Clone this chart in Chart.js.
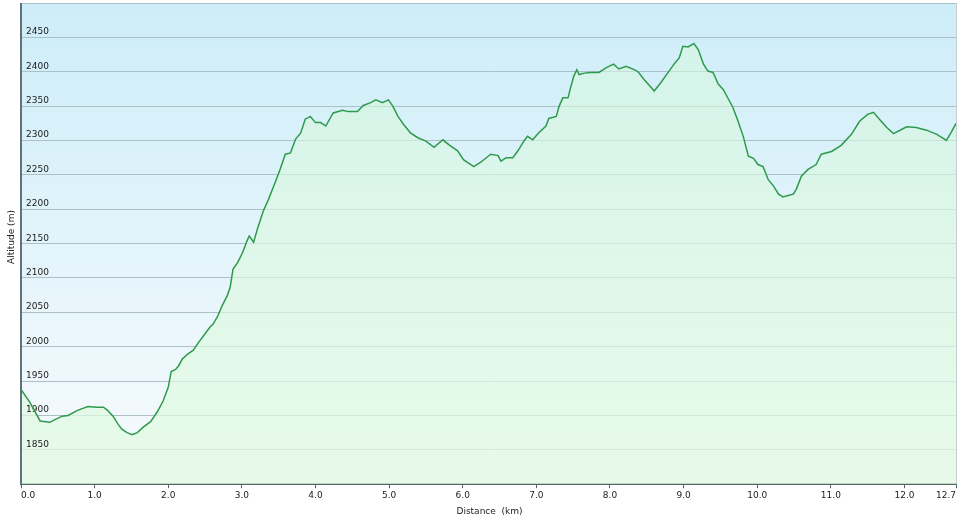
<!DOCTYPE html>
<html>
<head>
<meta charset="utf-8">
<script src="https://cdn.jsdelivr.net/npm/chart.js@4.4.0/dist/chart.umd.min.js"></script>
<style>
  html, body { margin: 0; padding: 0; background: #fff; }
  #wrap { position: relative; width: 960px; height: 519px; }
</style>
</head>
<body>
<div id="wrap"><canvas id="profile"></canvas></div>
<script>
// profile samples
const distanceKm = [
  0.00, 0.12, 0.26, 0.39, 0.46, 0.56, 0.64, 0.76, 0.83, 0.91,
  1.03, 1.12, 1.18, 1.25, 1.32, 1.37, 1.44, 1.51, 1.58, 1.66,
  1.76, 1.85, 1.93, 2.00, 2.04, 2.10, 2.14, 2.19, 2.26, 2.34,
  2.41, 2.48, 2.57, 2.61, 2.67, 2.73, 2.80, 2.84, 2.88, 2.94,
  3.01, 3.07, 3.10, 3.16, 3.21, 3.29, 3.36, 3.46, 3.52, 3.59,
  3.66, 3.73, 3.80, 3.86, 3.93, 4.00, 4.07, 4.14, 4.24, 4.37,
  4.44, 4.57, 4.65, 4.75, 4.82, 4.91, 4.99, 5.05, 5.12, 5.20,
  5.29, 5.39, 5.50, 5.61, 5.73, 5.81, 5.93, 6.01, 6.11, 6.15,
  6.24, 6.38, 6.48, 6.52, 6.59, 6.68, 6.75, 6.83, 6.88, 6.95,
  7.03, 7.13, 7.17, 7.27, 7.31, 7.36, 7.43, 7.47, 7.51, 7.55,
  7.58, 7.65, 7.74, 7.85, 7.95, 8.05, 8.12, 8.22, 8.35, 8.39,
  8.46, 8.56, 8.60, 8.69, 8.79, 8.87, 8.94, 8.99, 9.06, 9.14,
  9.20, 9.27, 9.33, 9.40, 9.47, 9.54, 9.61, 9.67, 9.74, 9.81,
  9.88, 9.95, 10.01, 10.08, 10.15, 10.22, 10.29, 10.35, 10.42, 10.49,
  10.53, 10.60, 10.69, 10.80, 10.87, 11.01, 11.14, 11.28, 11.39, 11.50,
  11.58, 11.66, 11.76, 11.85, 11.96, 12.03, 12.16, 12.30, 12.44, 12.57,
  12.64, 12.70
];
const altitudeM = [
  1938, 1919, 1892, 1890, 1894, 1899, 1900, 1907, 1910, 1913,
  1912, 1912, 1907, 1899, 1887, 1880, 1875, 1872, 1875, 1883,
  1891, 1905, 1921, 1941, 1964, 1967, 1972, 1982, 1989, 1995,
  2006, 2016, 2029, 2033, 2044, 2059, 2074, 2086, 2113, 2122,
  2137, 2154, 2161, 2152, 2171, 2197, 2214, 2241, 2258, 2280,
  2282, 2302, 2311, 2331, 2335, 2326, 2326, 2321, 2340, 2344,
  2342, 2342, 2351, 2355, 2359, 2355, 2359, 2350, 2335, 2323,
  2311, 2304, 2299, 2290, 2301, 2294, 2285, 2272, 2265, 2262,
  2268, 2280, 2278, 2270, 2275, 2275, 2285, 2299, 2306, 2301,
  2311, 2321, 2332, 2335, 2350, 2362, 2362, 2379, 2394, 2403,
  2396, 2398, 2399, 2399, 2406, 2411, 2404, 2408, 2402, 2399,
  2389, 2377, 2372, 2384, 2399, 2411, 2420, 2437, 2436, 2441,
  2432, 2411, 2401, 2399, 2382, 2374, 2360, 2348, 2328, 2306,
  2277, 2274, 2265, 2262, 2243, 2234, 2222, 2218, 2220, 2222,
  2229, 2248, 2258, 2265, 2280, 2284, 2293, 2309, 2328, 2338,
  2341, 2331, 2319, 2310, 2316, 2320, 2319, 2315, 2309, 2300,
  2313, 2325
];
const xTicks = [0, 1, 2, 3, 4, 5, 6, 7, 8, 9, 10, 11, 12, 12.7];
const yMin = 1800;
const yMax = 2500;
const yStep = 50;

const axisFont = { family: 'DejaVu Sans', size: 9 };

// sky gradient behind the plot, y labels inside the plot, axis line and titles
const plotFrame = {
  id: 'plotFrame',
  beforeDraw(chart) {
    const { ctx, chartArea: a } = chart;
    const g = ctx.createLinearGradient(0, a.top, 0, a.bottom);
    g.addColorStop(0, '#cdedf9');
    g.addColorStop(1, '#f8fbfd');
    ctx.save();
    ctx.fillStyle = g;
    ctx.fillRect(a.left, a.top, a.right - a.left, a.bottom - a.top);
    ctx.restore();
  },
  beforeDatasetsDraw(chart) {
    const { ctx, chartArea: a } = chart;
    const y = chart.scales.y;
    ctx.save();
    ctx.fillStyle = '#1a1a1a';
    ctx.font = '9px "DejaVu Sans"';
    ctx.textAlign = 'left';
    ctx.textBaseline = 'alphabetic';
    for (let v = yMin + yStep; v < yMax; v += yStep) {
      ctx.fillText(String(v), a.left + 5, y.getPixelForValue(v) - 3);
    }
    ctx.restore();
  },
  afterDraw(chart) {
    const { ctx, chartArea: a } = chart;
    ctx.save();
    ctx.strokeStyle = '#c4cdd1';
    ctx.lineWidth = 1;
    ctx.beginPath();
    ctx.moveTo(a.right + 0.5, a.top);
    ctx.lineTo(a.right + 0.5, a.bottom);
    ctx.stroke();

    ctx.strokeStyle = '#5f737b';
    ctx.lineWidth = 2;
    ctx.beginPath();
    ctx.moveTo(a.left, a.top);
    ctx.lineTo(a.left, a.bottom + 1);
    ctx.stroke();

    ctx.fillStyle = '#222';
    ctx.font = '9px "DejaVu Sans"';
    ctx.textAlign = 'center';
    ctx.textBaseline = 'middle';
    ctx.fillText('Distance  (km)', (a.left + a.right) / 2 + 1, 512);
    ctx.translate(12, 237);
    ctx.rotate(-Math.PI / 2);
    ctx.fillText('Altitude (m)', 0, 0);
    ctx.restore();
  }
};

new Chart(document.getElementById('profile'), {
  type: 'line',
  data: {
    datasets: [{
      data: distanceKm.map((d, i) => ({ x: d, y: altitudeM[i] })),
      borderColor: '#2e9a4c',
      borderWidth: 1.5,
      pointRadius: 0,
      tension: 0,
      fill: 'start',
      backgroundColor(c) {
        const a = c.chart.chartArea;
        if (!a) return 'rgba(220,248,222,0.6)';
        const g = c.chart.ctx.createLinearGradient(0, a.top, 0, a.bottom);
        g.addColorStop(0, 'rgba(214,247,222,0.55)');
        g.addColorStop(1, 'rgba(226,250,226,0.75)');
        return g;
      }
    }]
  },
  options: {
    responsive: true,
    maintainAspectRatio: false,
    animation: false,
    layout: { padding: { left: 21, top: 3, right: 4, bottom: 16 } },
    plugins: {
      legend: { display: false },
      tooltip: { enabled: false },
      filler: { drawTime: 'beforeDatasetsDraw' }
    },
    scales: {
      x: {
        type: 'linear',
        min: 0,
        max: 12.7,
        afterBuildTicks(scale) {
          scale.ticks = xTicks.map(v => ({ value: v }));
        },
        grid: { drawOnChartArea: false, drawTicks: true, tickLength: 4, color: '#55656c' },
        border: { color: '#55656c', width: 2 },
        ticks: {
          align: 'inner',
          maxRotation: 0,
          padding: 2,
          color: '#222',
          font: axisFont,
          callback: v => Number(v).toFixed(1)
        }
      },
      y: {
        min: yMin,
        max: yMax,
        afterFit(scale) { scale.width = 0; },
        grid: { drawTicks: false, color: '#adbfc7', lineWidth: 1 },
        border: { display: false },
        ticks: { stepSize: yStep, display: false }
      }
    }
  },
  plugins: [plotFrame]
});
</script>
</body>
</html>
